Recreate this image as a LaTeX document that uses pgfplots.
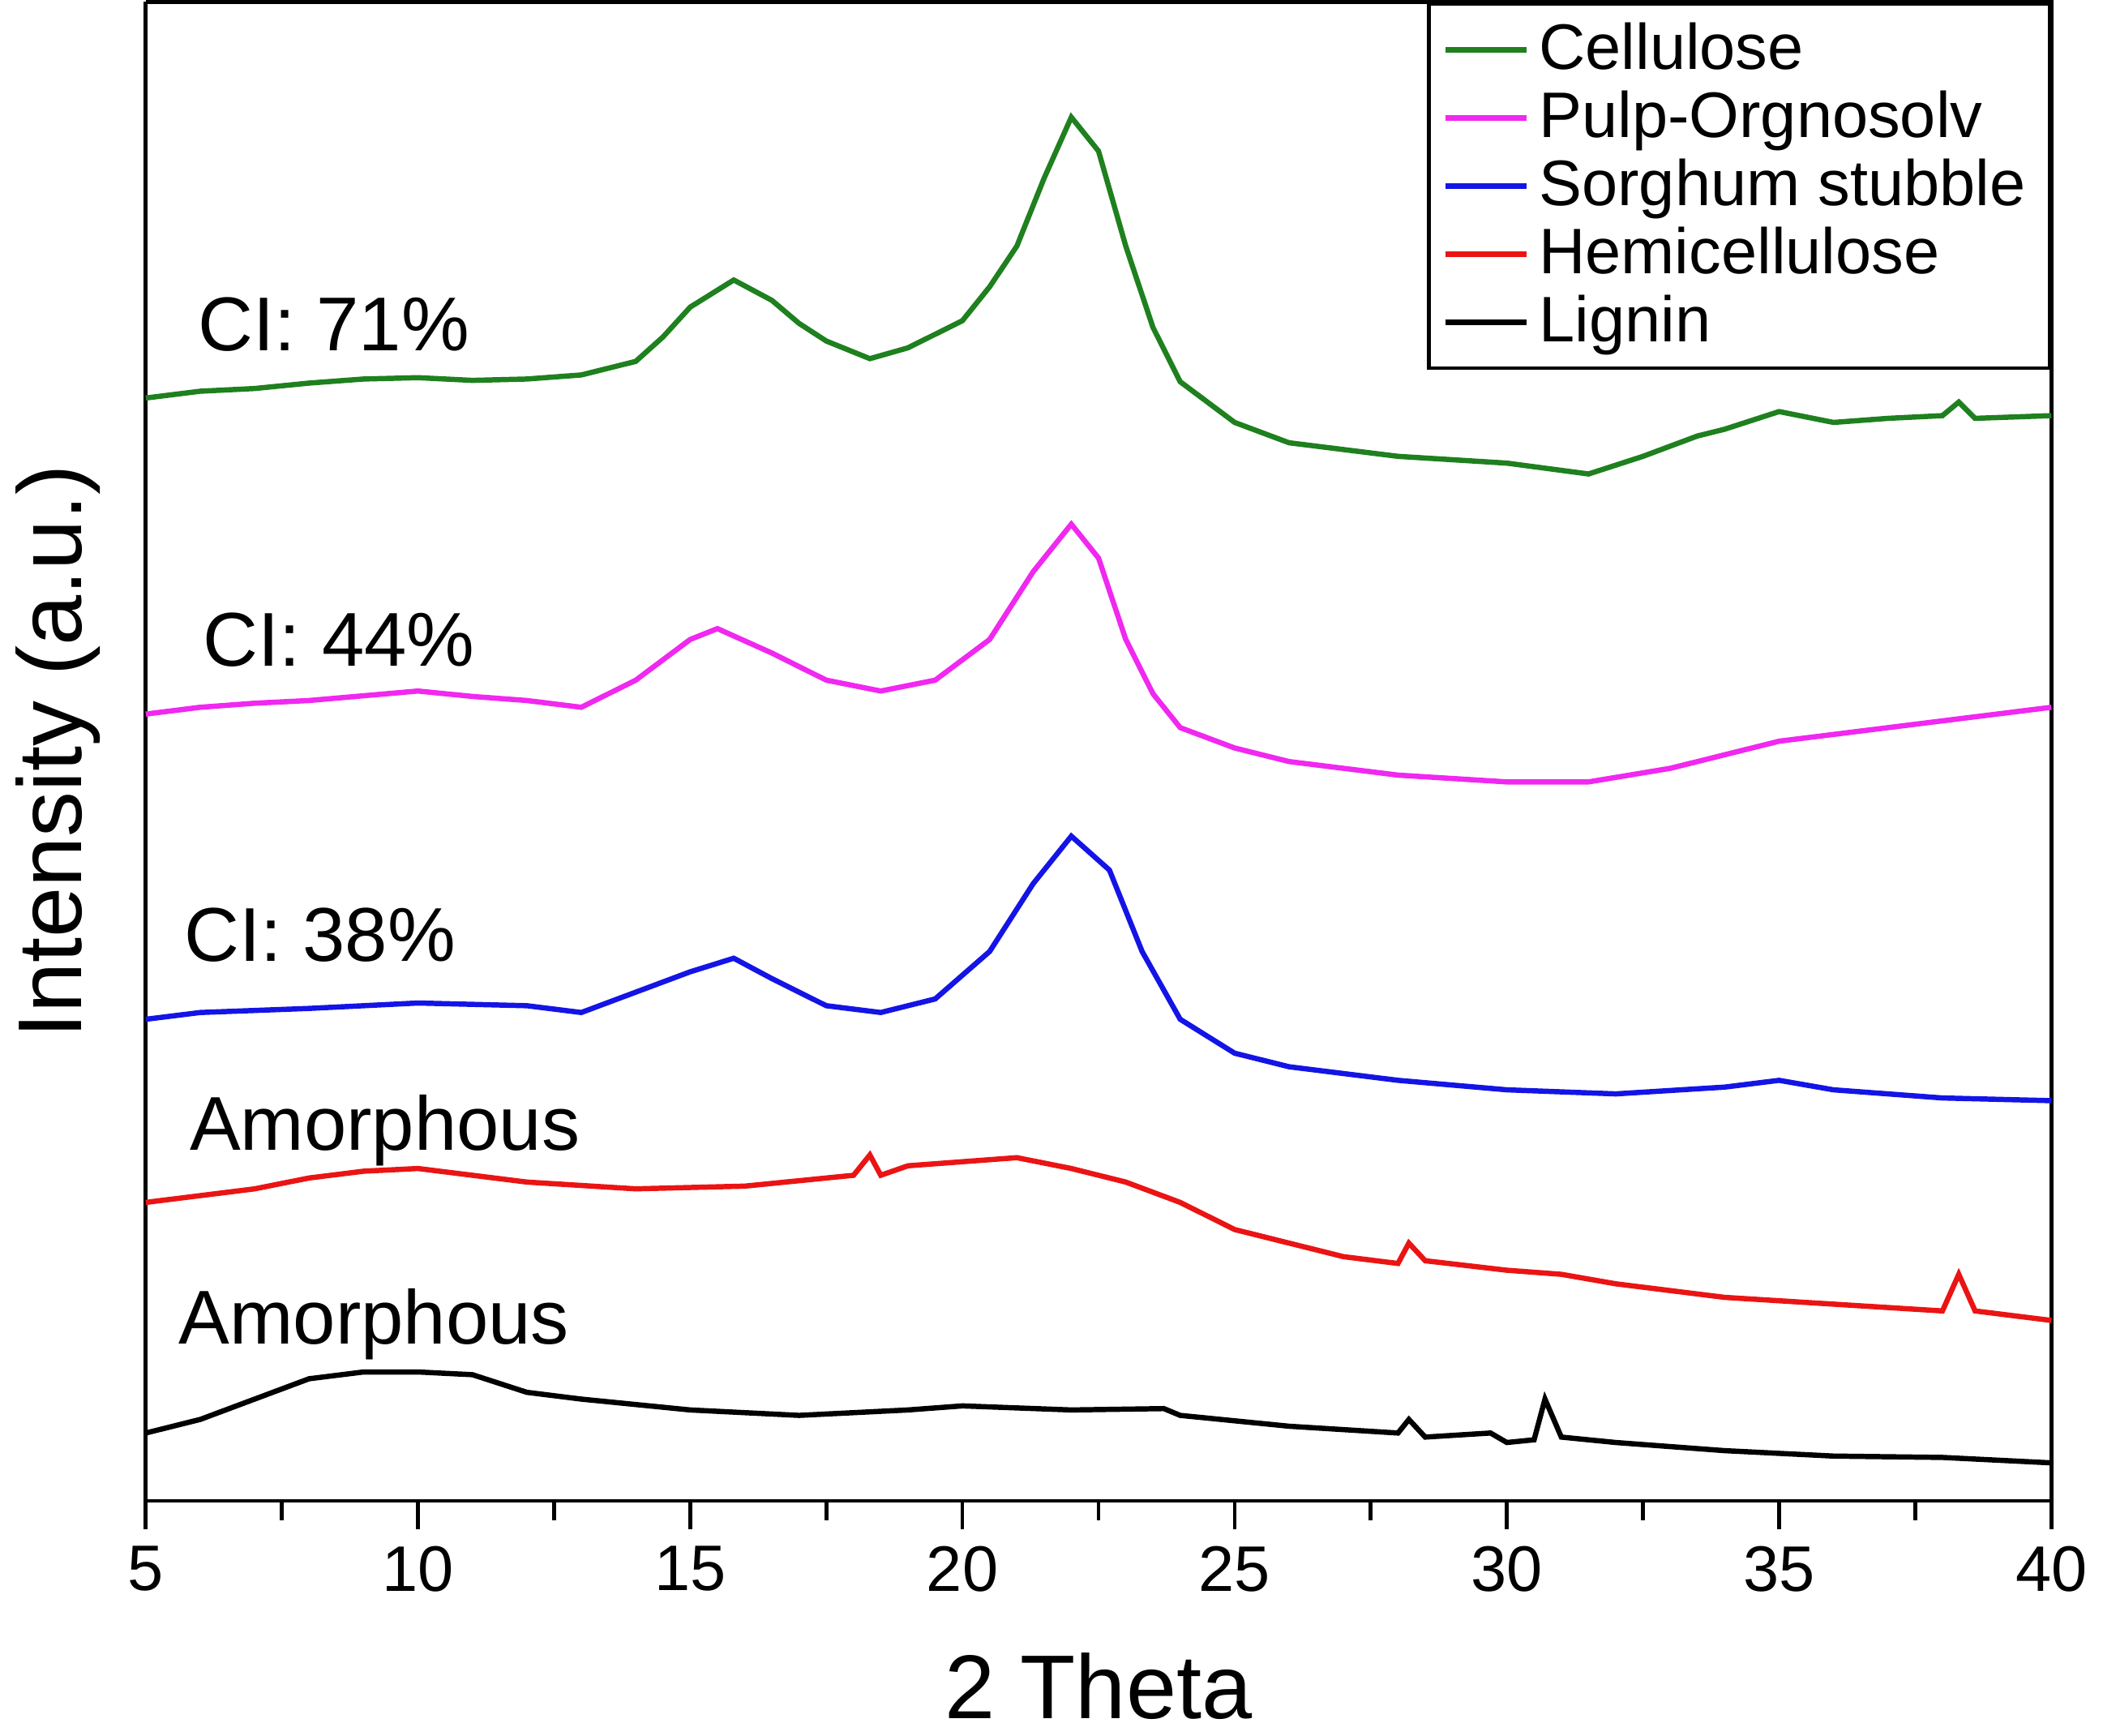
\documentclass[border=0pt]{standalone}
\usepackage{pgfplots}
\pgfplotsset{compat=1.18}
\usepackage{fontspec}
\setmainfont{Liberation Sans}
\definecolor{cgreen}{RGB}{30,128,30}
\definecolor{cmag}{RGB}{240,40,240}
\definecolor{cblue}{RGB}{20,20,230}
\definecolor{cred}{RGB}{235,20,20}
\begin{document}
\begin{tikzpicture}
\begin{axis}[width=14.05cm,height=11.05cm,scale only axis,
 xmin=5,xmax=40,ymin=0,ymax=1105,
 xtick={5,10,...,40},minor x tick num=1,ytick=\empty,
 axis x line*=bottom, axis y line*=left,
 tick align=outside, tick style={black,thick},major tick length=6pt,minor tick length=4pt,
 /pgf/number format/assume math mode=true,
 ticklabel style={font=\fontsize{13.5}{16}\selectfont},
 xlabel={2 Theta},ylabel={Intensity (a.u.)},
 xlabel style={yshift=-6pt},
 label style={font=\fontsize{19}{23}\selectfont},
 axis line style={thick},
 every axis plot/.append style={line width=1.1pt},
 legend style={at={(1,1)},anchor=north east,font=\fontsize{13.5}{16}\selectfont,draw=black,thick,cells={anchor=west},row sep=-1pt},
 clip=false]
\draw[thick] (rel axis cs:0,1)--(rel axis cs:1,1)--(rel axis cs:1,0);
\addplot[cgreen] coordinates {(5,813)(6,818)(7,820)(8,824)(9,827)(10,828)(11,826)(12,827)(13,830)(14,840)(14.5,858)(15,880)(15.8,900)(16.5,885)(17,868)(17.5,855)(18.3,842)(19,850)(20,870)(20.5,895)(21,925)(21.5,975)(22,1020)(22.5,995)(23,925)(23.5,865)(24,825)(25,795)(26,780)(27,775)(28,770)(30,765)(31.5,757)(32.5,770)(33.5,785)(34,790)(35,803)(36,795)(37,798)(38,800)(38.3,810)(38.6,798)(40,800)};
\addplot[cmag] coordinates {(5,580)(6,585)(7,588)(8,590)(10,597)(11,593)(12,590)(13,585)(14,605)(15,635)(15.5,643)(16.5,625)(17.5,605)(18.5,597)(19.5,605)(20.5,635)(21.3,685)(22,720)(22.5,695)(23,635)(23.5,595)(24,570)(25,555)(26,545)(28,535)(30,530)(31.5,530)(33,540)(35,560)(37,570)(40,585)};
\addplot[cblue] coordinates {(5,355)(6,360)(8,363)(10,367)(12,365)(13,360)(14,375)(15,390)(15.8,400)(16.5,385)(17.5,365)(18.5,360)(19.5,370)(20.5,405)(21.3,455)(22,490)(22.7,465)(23.3,405)(24,355)(25,330)(26,320)(28,310)(30,303)(32,300)(34,305)(35,310)(36,303)(38,297)(40,295)};
\addplot[cred] coordinates {(5,220)(6,225)(7,230)(8,238)(9,243)(10,245)(11,240)(12,235)(14,230)(16,232)(18,240)(18.3,255)(18.5,240)(19,247)(20,250)(21,253)(22,245)(23,235)(24,220)(25,200)(26,190)(27,180)(28,175)(28.2,190)(28.5,177)(30,170)(31,167)(32,160)(34,150)(36,145)(38,140)(38.3,167)(38.6,140)(40,133)};
\addplot[black] coordinates {(5,50)(6,60)(7,75)(8,90)(9,95)(10,95)(11,93)(12,80)(13,75)(15,67)(17,63)(19,67)(20,70)(22,67)(23.7,68)(24,63)(26,55)(28,50)(28.2,60)(28.5,47)(29.7,50)(30,43)(30.5,45)(30.7,75)(31,47)(32,43)(34,37)(36,33)(38,32)(40,28)};
\legend{Cellulose,Pulp-Orgnosolv,Sorghum stubble,Hemicellulose,Lignin}
\node[anchor=west,font=\fontsize{16}{19}\selectfont] at (axis cs:5.65,867) {CI: 71\%};
\node[anchor=west,font=\fontsize{16}{19}\selectfont] at (axis cs:5.75,635) {CI: 44\%};
\node[anchor=west,font=\fontsize{16}{19}\selectfont] at (axis cs:5.4,417) {CI: 38\%};
\node[anchor=west,font=\fontsize{16}{19}\selectfont] at (axis cs:5.5,273) {Amorphous};
\node[anchor=west,font=\fontsize{16}{19}\selectfont] at (axis cs:5.3,130) {Amorphous};
\end{axis}
\end{tikzpicture}
\end{document}
